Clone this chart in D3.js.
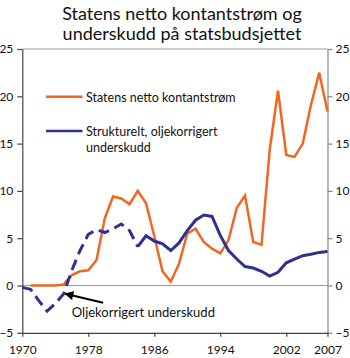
<!DOCTYPE html>
<html><head><meta charset="utf-8">
<script src="https://cdn.jsdelivr.net/npm/d3@7"></script>
<style>body{margin:0;background:#fff}svg{display:block;font-family:Lato,"Open Sans",sans-serif}</style>
</head><body>
<script>
const title = ["Statens netto kontantstrøm og", "underskudd på statsbudsjettet"];
const cashYears = d3.range(1971, 2008);
const cashFlow = [0,0,0,0,0.1,1.1,1.5,1.6,2.7,7.1,9.4,9.2,8.6,10.0,8.7,5.2,1.5,0.4,2.3,5.5,6.0,4.6,3.9,3.4,4.8,8.2,9.5,4.6,4.3,14.4,20.6,13.8,13.6,15.0,19.1,22.5,18.4];
const defYears = d3.range(1970, 2008);
const deficit = [-0.2,-0.4,-1.6,-2.7,-1.9,-0.9,1.6,3.7,5.4,5.9,5.6,6.0,6.5,5.8,4.1,5.25,4.7,4.4,3.7,4.5,5.8,6.9,7.45,7.3,5.3,3.7,2.8,2.0,1.85,1.5,1.0,1.4,2.4,2.8,3.15,3.3,3.5,3.6];
const dashedUntil = 1984;
const xTicks = [1970,1978,1986,1994,2002,2007];
const yTicks = [-5,0,5,10,15,20,25];
const legendLabels = [["Statens netto kontantstrøm"],["Strukturelt, oljekorrigert","underskudd"]];
const annotation = "Oljekorrigert underskudd";

const W=350,H=358;
const orange="#f26522", navy="#2e3192";
const svg=d3.select("body").append("svg").attr("width",W).attr("height",H);
const x=d3.scaleLinear().domain([1970,2007]).range([22.3,327.5]);
const y=d3.scaleLinear().domain([-5,25]).range([332.8,49]);

// title
svg.append("text").attr("x",182).attr("y",19.5).attr("text-anchor","middle").attr("font-size",18).attr("fill","#111").text(title[0]);
svg.append("text").attr("x",182).attr("y",39.5).attr("text-anchor","middle").attr("font-size",18).attr("fill","#111").text(title[1]);

// frame top
svg.append("line").attr("x1",x(1970)).attr("x2",x(2007)).attr("y1",y(25)).attr("y2",y(25)).attr("stroke","#999").attr("stroke-width",1.2);
// zero line
svg.append("line").attr("x1",x(1970)).attr("x2",x(2007)).attr("y1",y(0)).attr("y2",y(0)).attr("stroke","#999").attr("stroke-width",1.2);

function styleAxis(g,col){
  g.select(".domain").attr("stroke",col).attr("stroke-width",1.2);
  g.selectAll(".tick line").attr("stroke",col).attr("stroke-width",1.2);
  g.selectAll(".tick text").attr("fill","#111").attr("font-size",12).attr("font-family","Lato,'Open Sans',sans-serif");
}
const gl=svg.append("g").attr("transform",`translate(${x(1970)},0)`)
  .call(d3.axisLeft(y).tickValues(yTicks).tickSize(5).tickPadding(4).tickSizeOuter(0).tickFormat(d3.format("d")));
styleAxis(gl,"#444");
const gr=svg.append("g").attr("transform",`translate(${x(2007)},0)`)
  .call(d3.axisRight(y).tickValues(yTicks).tickSize(5).tickPadding(3).tickSizeOuter(0).tickFormat(d3.format("d")));
styleAxis(gr,"#888");
const gb=svg.append("g").attr("transform",`translate(0,${y(-5)})`)
  .call(d3.axisBottom(x).tickValues(xTicks).tickSize(4).tickPadding(9).tickSizeOuter(0).tickFormat(d3.format("d")));
styleAxis(gb,"#444");

// lines
const line=d3.line().x(d=>x(d[0])).y(d=>y(d[1]));
const cash=cashYears.map((yr,i)=>[yr,cashFlow[i]]);
const def=defYears.map((yr,i)=>[yr,deficit[i]]);
svg.append("path").datum(cash).attr("d",line).attr("fill","none").attr("stroke",orange).attr("stroke-width",2.5).attr("stroke-linejoin","miter");
svg.append("path").datum(def.filter(d=>d[0]<=dashedUntil)).attr("d",line).attr("fill","none").attr("stroke",navy).attr("stroke-width",3).attr("stroke-dasharray","11,6");
svg.append("path").datum(def.filter(d=>d[0]>=dashedUntil)).attr("d",line).attr("fill","none").attr("stroke",navy).attr("stroke-width",3);

// legend
svg.append("line").attr("x1",46).attr("x2",82.5).attr("y1",96.7).attr("y2",96.7).attr("stroke",orange).attr("stroke-width",2.5);
svg.append("line").attr("x1",46).attr("x2",82.5).attr("y1",131).attr("y2",131).attr("stroke",navy).attr("stroke-width",2.5);
svg.append("text").attr("x",86).attr("y",101.5).attr("font-size",12.5).attr("fill","#111").text(legendLabels[0][0]);
svg.append("text").attr("x",86).attr("y",136).attr("font-size",12.5).attr("fill","#111").text(legendLabels[1][0]);
svg.append("text").attr("x",86).attr("y",152).attr("font-size",12.5).attr("fill","#111").text(legendLabels[1][1]);

// annotation
svg.append("defs").append("marker").attr("id","ah").attr("viewBox","0 0 10 10").attr("refX",9).attr("refY",5)
  .attr("markerWidth",5.5).attr("markerHeight",4.5).attr("orient","auto").attr("markerUnits","strokeWidth")
  .append("path").attr("d","M0,0L10,5L0,10z").attr("fill","#000");
svg.append("line").attr("x1",x(1979.8)).attr("y1",y(-1.83)).attr("x2",x(1975.2)).attr("y2",y(-0.88))
  .attr("stroke","#000").attr("stroke-width",2).attr("marker-end","url(#ah)");
svg.append("text").attr("x",x(1976)).attr("y",317.3).attr("font-size",13).attr("fill","#111").text(annotation);
</script>
</body></html>
